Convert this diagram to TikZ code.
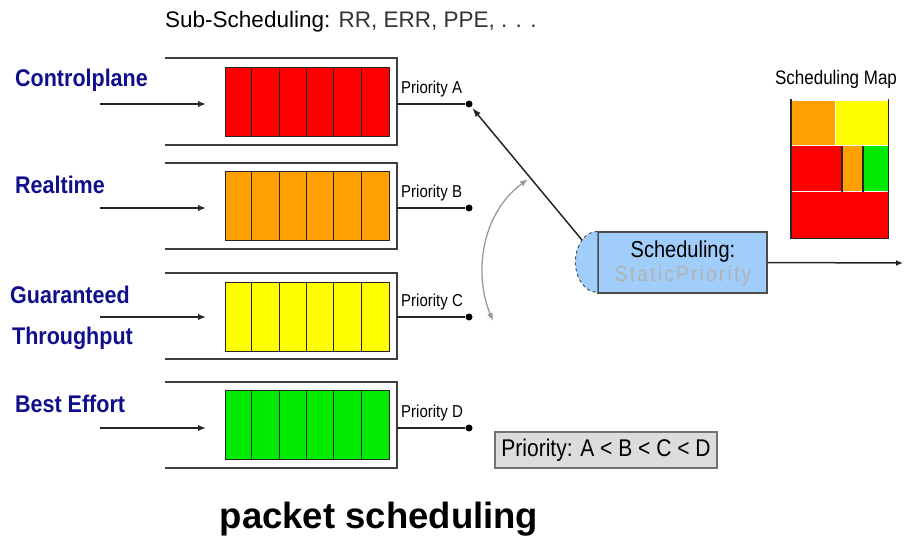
\documentclass[tikz,border=0pt]{standalone}
\usepackage{fontspec}
\setmainfont{Liberation Sans}
\usepackage{graphicx}
\usetikzlibrary{arrows.meta}
\definecolor{qred}{RGB}{255,0,0}
\definecolor{qorange}{RGB}{255,160,0}
\definecolor{qyellow}{RGB}{255,255,0}
\definecolor{qgreen}{RGB}{0,235,0}
\definecolor{lblblue}{RGB}{15,15,140}
\definecolor{schedblue}{RGB}{160,205,250}
\definecolor{boxgray}{RGB}{220,220,220}
\newcommand\vtxt[2][1.15]{\scalebox{1}[#1]{#2}}
\begin{document}
\begin{tikzpicture}[x=1pt,y=-1pt,
  cont/.style={draw=black!75, line width=1.8pt},
  cell/.style={draw=black!85, line width=1pt},
  inarrow/.style={draw=black!85, line width=1.6pt, -{Latex[length=8pt,width=6.5pt]}},
  prline/.style={draw=black!85, line width=1.5pt},
  dotnode/.style={circle, fill=black, inner sep=0pt, minimum size=7pt},
  lbl/.style={font=\bfseries\fontsize{21.5}{24}\selectfont, text=lblblue, inner sep=0pt, anchor=west},
  prlbl/.style={font=\fontsize{15}{17}\selectfont, inner sep=0pt, anchor=west},
  mapsep/.style={draw=white, line width=1pt},
  mapline/.style={draw=black!85, line width=1.4pt},
]
\useasboundingbox (0,0) rectangle (904,537);

% title text at top
\node[anchor=west, inner sep=0pt, font=\fontsize{22.5}{25}\selectfont] (sub) at (165,22)
  {Sub-Scheduling: \textcolor{black!80}{RR, ERR, PPE, . . .}};

% queues
\foreach \L/\ct/\cb/\ic/\ly/\col in {A/58/145/102/104/qred, B/163/249/206.5/208/qorange, C/273/359/316.5/317/qyellow, D/382/468/425/428/qgreen}{
  \draw[cont] (165,\ct) -- (397,\ct) -- (397,\cb) -- (165,\cb);
  \node[cell, fill=\col, minimum width=164pt, minimum height=69pt, inner sep=0pt] (q\L) at (307,\ic) {};
  \foreach \k in {1,...,5}{
    \draw[cell] ([xshift=\k*27.33pt]q\L.north west) -- ([xshift=\k*27.33pt]q\L.south west);
  }
  \coordinate (i\L) at (100,\ly);
  \coordinate (e\L) at (206,\ly);
  \draw[inarrow] (i\L) -- (e\L);
  \coordinate (r\L) at (397,\ly);
  \node[dotnode] (d\L) at (469,\ly) {};
  \draw[prline] (r\L) -- (d\L);
  \node[prlbl] (p\L) at (401,{\ly-15}) {\vtxt{Priority \L}};
}

% left labels
\node[lbl] (lcp) at (15,80) {\vtxt[1.12]{Controlplane}};
\node[lbl] (lrt) at (15,185) {\vtxt[1.12]{Realtime}};
\node[lbl] (lg1) at (10,295) {\vtxt[1.12]{Guaranteed}};
\node[lbl] (lg2) at (12,338) {\vtxt[1.12]{Throughput}};
\node[lbl] (lbe) at (15,404) {\vtxt[1.12]{Best Effort}};

% scheduler
\node[draw=black!70, line width=1.2pt, fill=schedblue, minimum width=169pt, minimum height=61pt, inner sep=0pt] (sched) at (682.5,262.5) {};
\filldraw[fill=schedblue, draw=black!70, dashed, line width=1pt] (sched.north west) arc[start angle=90, end angle=270, x radius=22pt, y radius=30.5pt];
\node[inner sep=0pt, font=\fontsize{20}{22}\selectfont] (schedt) at (683,252) {\vtxt{Scheduling:}};
\node[inner sep=0pt, font=\fontsize{19}{22}\selectfont\addfontfeature{LetterSpace=12}, text=black!30] (scheds) at (683,276) {\vtxt{StaticPriority}};

\coordinate (sin) at (582,240);
\draw[prline, -{Latex[length=9pt,width=6.5pt]}, shorten >=1.5pt] (sin) -- (dA);
\coordinate (out) at (903,263);
\draw[prline, -{Latex[length=7pt,width=6pt]}] (sched.east) -- (out);

% gray double arrow
\coordinate (gb) at (493,321);
\coordinate (gt) at (528,179);
\draw[black!40, line width=1.3pt, {Latex[length=8pt,width=6pt]}-{Latex[length=8pt,width=6pt]}] (gb) .. controls (474,275) and (480,215) .. (gt);

% scheduling map
\node[inner sep=0pt, font=\fontsize{17}{20}\selectfont] (maptitle) at (836,79) {\vtxt{Scheduling Map}};
\node[inner sep=0pt, minimum width=97pt, minimum height=139pt] (smap) at (839.5,169) {};
\fill[qorange] (791,101) rectangle (835,146);
\fill[qyellow] (835,101) rectangle (888,146);
\fill[qred] (791,146) rectangle (842,192);
\fill[qorange] (842,146) rectangle (863,192);
\fill[qgreen] (863,146) rectangle (888,192);
\fill[qred] (791,192) rectangle (888,238);
\draw[mapsep] (835,101) -- (835,146);
\draw[mapsep] (791,146) -- (888,146);
\draw[mapsep] (791,192) -- (888,192);
\draw[mapline] (842,146) -- (842,192);
\draw[mapline] (863,146) -- (863,192);
\draw[mapline] (smap.north west) -- (smap.south west) -- (smap.south east) -- (smap.north east);

% priority box
\node[draw=black!55, fill=boxgray, line width=1.2pt, minimum width=222pt, minimum height=36pt, inner sep=0pt, font=\fontsize{21}{23}\selectfont] (prio) at (606,450) {\vtxt{Priority: A < B < C < D}};

% caption
\node[inner sep=0pt, font=\bfseries\fontsize{36.5}{40}\selectfont] (title) at (379,519) {packet scheduling};
\end{tikzpicture}
\end{document}
